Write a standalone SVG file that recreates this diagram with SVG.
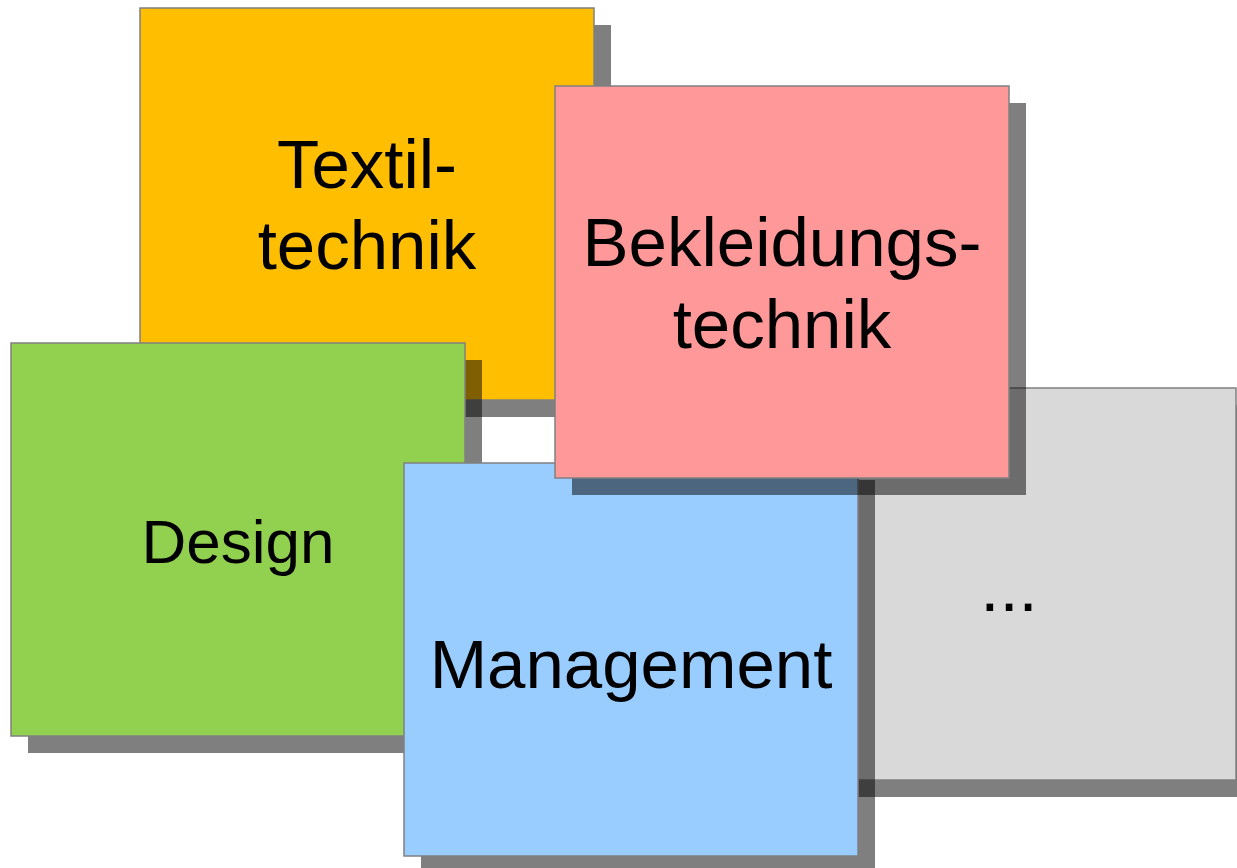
<svg xmlns="http://www.w3.org/2000/svg" width="1237" height="868" viewBox="0 0 1237 868">
<style>
.sh{fill:#000;fill-opacity:0.5}
.box{stroke:#808080;stroke-width:1.5}
.t{font-family:"Liberation Sans",Arial,sans-serif;font-size:69px;fill:#000;text-anchor:middle}
</style>
<rect width="1237" height="868" fill="#fff"/>
<g id="textiltechnik">
<rect class="sh" x="157" y="25" width="454" height="392"/>
<rect class="box" x="140" y="8" width="454" height="392" fill="#FFBF00"/>
<text class="t" x="367" y="188">Textil-</text>
<text class="t" x="367" y="269">technik</text>
</g>
<g id="more">
<rect class="sh" x="799" y="405" width="454" height="392"/>
<rect class="box" x="782" y="388" width="454" height="392" fill="#D9D9D9"/>
<text class="t" x="1009" y="611">...</text>
</g>
<g id="design">
<rect class="sh" x="28" y="360" width="454" height="393"/>
<rect class="box" x="11" y="343" width="454" height="393" fill="#92D050"/>
<text class="t" x="238" y="563" style="font-size:62px">Design</text>
</g>
<g id="management">
<rect class="sh" x="421" y="480" width="454" height="393"/>
<rect class="box" x="404" y="463" width="454" height="393" fill="#99CCFF"/>
<text class="t" x="631" y="688">Management</text>
</g>
<g id="bekleidungstechnik">
<rect class="sh" x="572" y="103" width="454" height="392"/>
<rect class="box" x="555" y="86" width="454" height="392" fill="#FF9999"/>
<text class="t" x="782" y="266">Bekleidungs-</text>
<text class="t" x="782" y="348">technik</text>
</g>
<g id="connectors"/>
</svg>
